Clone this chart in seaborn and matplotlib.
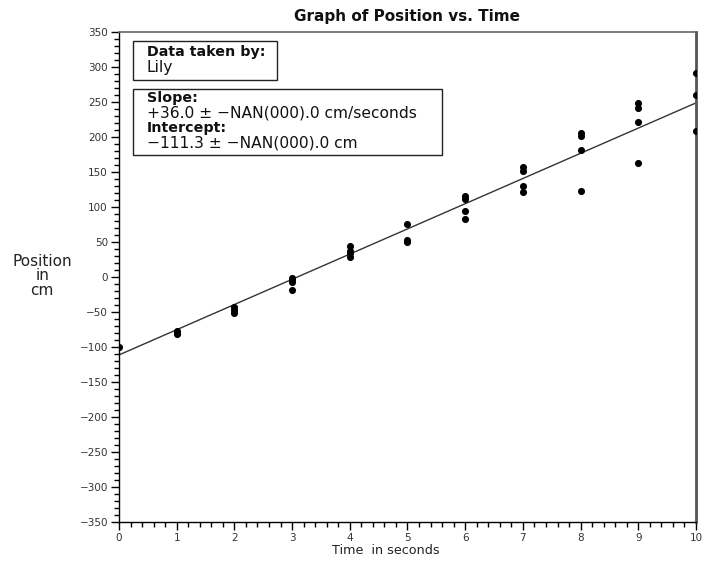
import numpy as np
import pandas as pd
import matplotlib
matplotlib.use("Agg")
import matplotlib.pyplot as plt
from matplotlib.patches import Rectangle
from matplotlib.ticker import MultipleLocator
import seaborn as sns

sns.set_style("ticks")
plt.rcParams["font.family"] = ["DejaVu Sans"]

# data
time_s = [0, 1, 1, 1, 2, 2, 2, 3, 3, 3, 3, 4, 4, 4, 4, 5, 5, 5,
          6, 6, 6, 6, 7, 7, 7, 7, 8, 8, 8, 8, 9, 9, 9, 9, 10, 10, 10]
position_cm = [-100, -77, -80, -82, -43, -47, -51, -1, -4, -7, -18,
               44, 37, 34, 28, 76, 53, 50, 115, 111, 94, 83,
               157, 152, 130, 122, 206, 201, 182, 123, 249, 242, 222, 163,
               292, 260, 208]
slope = 36.0
intercept = -111.3
x_ticks = list(range(0, 11))
y_ticks = list(range(-350, 351, 50))

df = pd.DataFrame({"Time": time_s, "Position": position_cm})

fig = plt.figure(figsize=(7.05, 5.63), dpi=100)
ax = fig.add_axes([0.1688, 0.0728, 0.8184, 0.8704])

sns.scatterplot(data=df, x="Time", y="Position", ax=ax, color="black",
                s=26, edgecolor="black", linewidth=0, zorder=3)

x_fit = np.array([min(time_s), max(time_s)])
sns.lineplot(x=x_fit, y=slope * x_fit + intercept, ax=ax, color="#333333",
             linewidth=1.0, zorder=2)

ax.set_xlim(0, 10)
ax.set_ylim(-350, 350)
ax.set_xticks(x_ticks)
ax.set_yticks(y_ticks)
ax.xaxis.set_minor_locator(MultipleLocator(0.2))
ax.yaxis.set_minor_locator(MultipleLocator(10))
ax.tick_params(which="major", length=6, width=1, labelsize=7.5,
               labelcolor="#333333", color="black", pad=2)
ax.tick_params(which="minor", length=3.5, width=1, color="black")

for side in ["left", "bottom"]:
    ax.spines[side].set_color("black")
    ax.spines[side].set_linewidth(1)
ax.spines["top"].set_color("#666666")
ax.spines["top"].set_linewidth(1.2)
ax.spines["right"].set_color("#555555")
ax.spines["right"].set_linewidth(2)

ax.set_xlabel("Time  in seconds", fontsize=9.2, color="#222222")
ax.xaxis.set_label_coords(0.463, -0.045)
ax.set_ylabel("")
fig.text(0.06, 0.51, "Position\nin\ncm", ha="center", va="center",
         fontsize=11, color="#222222", linespacing=0.95)
ax.set_title("Graph of Position vs. Time", fontsize=11, fontweight="bold",
             color="#111111", pad=8)

# info boxes
ax.add_patch(Rectangle((0.0243, 0.902), 0.2496, 0.0796, transform=ax.transAxes,
                       fill=False, edgecolor="#222222", linewidth=1, zorder=4))
ax.text(0.048, 0.959, "Data taken by:", transform=ax.transAxes,
        fontsize=10.3, fontweight="bold", va="center", color="#111111")
ax.text(0.048, 0.9265, "Lily", transform=ax.transAxes,
        fontsize=11.2, va="center", color="#111111")

ax.add_patch(Rectangle((0.0243, 0.749), 0.5355, 0.1347, transform=ax.transAxes,
                       fill=False, edgecolor="#222222", linewidth=1, zorder=4))
ax.text(0.048, 0.8653, "Slope:", transform=ax.transAxes,
        fontsize=10.3, fontweight="bold", va="center", color="#111111")
ax.text(0.048, 0.8347, f"+{slope:.1f} \u00b1 \u2212NAN(000).0 cm/seconds",
        transform=ax.transAxes, fontsize=11.2, va="center", color="#111111")
ax.text(0.048, 0.804, "Intercept:", transform=ax.transAxes,
        fontsize=10.3, fontweight="bold", va="center", color="#111111")
ax.text(0.048, 0.7735, f"\u2212{abs(intercept):.1f} \u00b1 \u2212NAN(000).0 cm",
        transform=ax.transAxes, fontsize=11.2, va="center", color="#111111")

fig.savefig("out.png", dpi=100)
